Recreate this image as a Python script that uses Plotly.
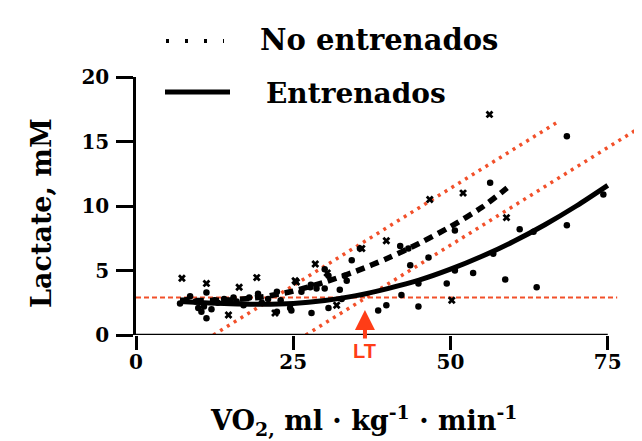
import plotly.graph_objects as go

# ---------------- data ----------------
x_ticks = [0, 25, 50, 75]
y_ticks = [0, 5, 10, 15, 20]

# scatter: "x" markers
untr_x = [7.3, 11.2, 16.4, 19.2, 14.7, 22.1, 25.3, 28.5, 31.9, 35.9, 39.8, 46.7, 52.0, 56.2, 58.9, 50.2, 25.5, 30.4]
untr_y = [4.4, 4.0, 3.7, 4.45, 1.55, 1.7, 4.2, 5.5, 2.3, 6.7, 7.3, 10.5, 11.0, 17.1, 9.1, 2.7, 4.1, 4.8]

# scatter: round markers
tr_x = [7.0, 8.6, 9.9, 10.4, 11.2, 11.2, 12.5, 14.0, 15.5, 17.1, 18.0, 19.4, 21.0, 22.4, 22.4,
        24.5, 24.7, 26.3, 27.7, 27.8, 27.9, 28.7, 30.0, 30.0, 30.6, 30.6, 32.4, 32.7, 33.2, 33.5,
        34.3, 35.6, 38.5, 39.8, 42.2, 42.0, 43.3, 43.6, 44.9, 44.9, 46.5, 49.4, 50.7, 50.7, 53.6,
        56.3, 56.8, 58.7, 61.0, 63.2, 63.7, 68.5, 68.5, 74.3, 8.0, 9.5, 13.0, 16.0, 20.0, 23.0, 10.8, 12.0]
tr_y = [2.45, 3.0, 2.1, 1.8, 3.3, 1.3, 2.7, 2.8, 2.9, 2.3, 2.9, 3.2, 2.8, 3.35, 1.8,
        2.1, 1.9, 3.35, 3.7, 3.9, 1.7, 3.6, 5.1, 3.6, 4.6, 2.1, 3.5, 2.8, 4.6, 4.2,
        5.8, 6.7, 1.9, 2.3, 3.1, 6.9, 6.7, 5.4, 2.2, 4.0, 6.0, 4.0, 8.1, 5.0, 4.8,
        11.8, 6.3, 4.3, 8.2, 8.0, 3.7, 15.4, 8.5, 10.9, 2.7, 2.6, 2.5, 2.6, 2.5, 2.7, 2.2, 2.0]

# fitted curves
untr_fit_x = [7, 10, 15, 20, 25, 30, 35, 40, 45, 50, 55, 59]
untr_fit_y = [2.7, 2.68, 2.72, 2.95, 3.4, 4.1, 4.95, 5.95, 7.1, 8.4, 9.9, 11.4]
tr_fit_x = [7, 10, 15, 20, 25, 30, 35, 40, 45, 50, 55, 60, 65, 70, 75]
tr_fit_y = [2.6, 2.52, 2.42, 2.38, 2.45, 2.68, 3.05, 3.6, 4.25, 5.1, 6.1, 7.25, 8.55, 10.0, 11.6]

# threshold guide lines
upper_x = [12.3, 67.0]
upper_y = [0, 16.5]
lower_x = [27.0, 81.5]
lower_y = [0, 16.5]
base_x = [0, 76.5]
base_y = [2.9, 2.9]
lt_x = 36.4
lt_y = 1.94

RED = "#f2502a"
SERIF = "DejaVu Serif"

fig = go.Figure()

fig.add_trace(go.Scatter(x=base_x, y=base_y, mode="lines",
                         line=dict(color=RED, width=2, dash="5px,3px"), showlegend=False))
fig.add_trace(go.Scatter(x=upper_x, y=upper_y, mode="lines",
                         line=dict(color=RED, width=3.5, dash="3px,5px"), showlegend=False))
fig.add_trace(go.Scatter(x=lower_x, y=lower_y, mode="lines",
                         line=dict(color=RED, width=3.5, dash="3px,5px"), showlegend=False))

fig.add_trace(go.Scatter(x=untr_x, y=untr_y, mode="markers",
                         marker=dict(symbol="x", size=7, color="black"), showlegend=False))
fig.add_trace(go.Scatter(x=tr_x, y=tr_y, mode="markers",
                         marker=dict(symbol="circle", size=6.5, color="black"), showlegend=False))

fig.add_trace(go.Scatter(x=untr_fit_x, y=untr_fit_y, mode="lines", line_shape="spline",
                         line=dict(color="black", width=5.5, dash="9px,6px", smoothing=0.8), showlegend=False))
fig.add_trace(go.Scatter(x=tr_fit_x, y=tr_fit_y, mode="lines", line_shape="spline",
                         line=dict(color="black", width=5, smoothing=0.8), showlegend=False))

# x axis line only across tick span
fig.add_shape(type="line", xref="x", yref="y", x0=x_ticks[0], x1=x_ticks[-1], y0=0, y1=0,
              line=dict(color="black", width=2.5))

# legend (manual)
fig.add_shape(type="line", xref="paper", yref="paper", x0=(158 - 128) / 514, x1=(216 - 128) / 514,
              y0=(327 - 33) / 258, y1=(327 - 33) / 258, line=dict(color="black", width=4, dash="3px,16px"))
fig.add_shape(type="line", xref="paper", yref="paper", x0=(157 - 128) / 514, x1=(222 - 128) / 514,
              y0=(327 - 84) / 258, y1=(327 - 84) / 258, line=dict(color="black", width=5))
fig.add_annotation(xref="paper", yref="paper", x=(250 - 128) / 514, y=(327 - 32) / 258,
                   text="No entrenados", showarrow=False, xanchor="left", yanchor="middle",
                   font=dict(family=SERIF, size=29, weight="bold", color="black"))
fig.add_annotation(xref="paper", yref="paper", x=(256 - 128) / 514, y=(327 - 85) / 258,
                   text="Entrenados", showarrow=False, xanchor="left", yanchor="middle",
                   font=dict(family=SERIF, size=28, weight="bold", color="black"))

# axis titles
fig.add_annotation(xref="paper", yref="paper", x=(355 - 128) / 514, y=(327 - 412) / 258,
                   text="VO<sub>2,</sub> ml · kg<sup>-1</sup> · min<sup>-1</sup>", showarrow=False,
                   xanchor="center", yanchor="middle",
                   font=dict(family=SERIF, size=27, weight="bold", color="black"))
fig.add_annotation(xref="paper", yref="paper", x=(33 - 128) / 514, y=(327 - 205) / 258,
                   text="Lactate, mM", showarrow=False, textangle=-90,
                   xanchor="center", yanchor="middle",
                   font=dict(family=SERIF, size=27, weight="bold", color="black"))

# LT arrow
fig.add_annotation(x=lt_x, y=lt_y, xref="x", yref="y", text="LT", showarrow=True,
                   ax=0, ay=41, arrowhead=2, arrowsize=1, arrowwidth=4, arrowcolor="#ff3d17",
                   font=dict(family="Liberation Sans", size=20, weight="bold", color="#ff3d17"))

fig.update_layout(
    width=642, height=441,
    margin=dict(l=128, r=0, t=69, b=114),
    plot_bgcolor="white", paper_bgcolor="white",
    showlegend=False,
    xaxis=dict(range=[0, 514 / 6.29], showline=False, showgrid=False, zeroline=False,
               ticks="outside", ticklen=14, tickwidth=2.5, tickcolor="black",
               tickvals=x_ticks, ticktext=[str(v) for v in x_ticks],
               tickfont=dict(family=SERIF, size=20, weight="bold", color="black"),
               ticklabelstandoff=-5),
    yaxis=dict(range=[0, 20], showline=True, linewidth=2.5, linecolor="black",
               showgrid=False, zeroline=False,
               ticks="outside", ticklen=17, tickwidth=2.5, tickcolor="black",
               tickvals=y_ticks, ticktext=[str(v) for v in y_ticks],
               tickfont=dict(family=SERIF, size=20, weight="bold", color="black"),
               ticklabelstandoff=3),
)

fig.write_html("out.html")
